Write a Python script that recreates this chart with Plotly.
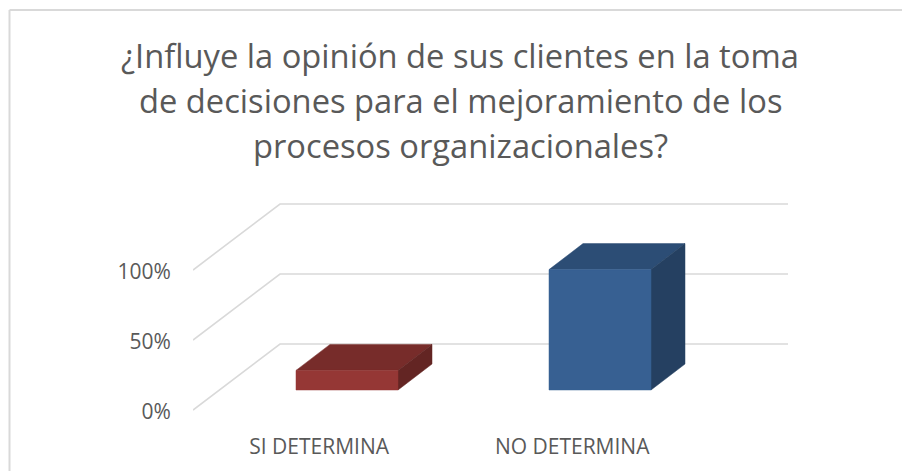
import plotly.graph_objects as go

categories = ["SI DETERMINA", "NO DETERMINA"]
values = [14, 86]
y_ticks = [0, 50, 100]
y_labels = ["0%", "50%", "100%"]
title_lines = [
    "¿Influye la opinión de sus clientes en la toma",
    "de decisiones para el mejoramiento de los",
    "procesos organizacionales?",
]
front_colors = ["#953735", "#376092"]
top_colors = ["#772C2A", "#2C4D75"]
side_colors = ["#632523", "#254061"]

W, H = 902, 471
PX_X0, PX_X1 = 193, 788      # plot area, pixels
PX_Y0, PX_Y1 = 410, 200
Y_PER_PX = 1 / 1.4           # percent per pixel
X_PER_PX = 1 / 253           # category units per pixel
X_MIN = (PX_X0 - 347) * X_PER_PX
X_MAX = (PX_X1 - 347) * X_PER_PX
Y_MAX = (PX_Y0 - PX_Y1) * Y_PER_PX

FLOOR_DX, FLOOR_DY = 87 * X_PER_PX, 66 * Y_PER_PX
BAR_DX, BAR_DY = 34 * X_PER_PX, 26 * Y_PER_PX
BAR_HALF = 51 * X_PER_PX
BASE = 20 * Y_PER_PX
LABEL_SHIFT = 0.11
Y_LABEL_NUDGE = 2 * Y_PER_PX

fig = go.Figure()

def poly(xs, ys, color):
    fig.add_trace(go.Scatter(x=xs, y=ys, mode="lines", fill="toself", fillcolor=color,
                             line=dict(color=color, width=0.5), hoverinfo="skip", showlegend=False))

for v in y_ticks:
    fig.add_trace(go.Scatter(x=[X_MIN, X_MIN + FLOOR_DX, X_MAX], y=[v, v + FLOOR_DY, v + FLOOR_DY],
                             mode="lines", line=dict(color="#d9d9d9", width=1.6),
                             hoverinfo="skip", showlegend=False))

for i, val in enumerate(values):
    l, r = i - BAR_HALF, i + BAR_HALF
    b, t = BASE, BASE + val
    poly([l, r, r + BAR_DX, l + BAR_DX, l], [t, t, t + BAR_DY, t + BAR_DY, t], top_colors[i])
    poly([r, r + BAR_DX, r + BAR_DX, r, r], [b, b + BAR_DY, t + BAR_DY, t, b], side_colors[i])
    poly([l, r, r, l, l], [b, b, t, t, b], front_colors[i])

FONT = "Open Sans"
fig.update_layout(
    template="none",
    width=W, height=H, autosize=False,
    margin=dict(l=0, r=0, t=0, b=0),
    paper_bgcolor="white", plot_bgcolor="white",
    font=dict(family=FONT, color="#595959"),
    xaxis=dict(domain=[PX_X0 / W, PX_X1 / W], range=[X_MIN, X_MAX], showgrid=False, zeroline=False,
               showline=False, automargin=False, tickmode="array",
               tickvals=[i - LABEL_SHIFT for i in range(len(categories))], ticktext=categories,
               ticks="outside", ticklen=14, tickcolor="rgba(0,0,0,0)", tickfont=dict(size=21)),
    yaxis=dict(domain=[1 - PX_Y0 / H, 1 - PX_Y1 / H], range=[-3, Y_MAX], showgrid=False, zeroline=False,
               showline=False, automargin=False, tickmode="array",
               tickvals=[v - Y_LABEL_NUDGE for v in y_ticks], ticktext=y_labels,
               ticks="outside", ticklen=17, tickcolor="rgba(0,0,0,0)", tickfont=dict(size=21)),
    annotations=[
        dict(text=line, xref="paper", yref="paper", x=460 / W, y=1 - cy / H, xanchor="center",
             yanchor="middle", showarrow=False, font=dict(size=32.7, family=FONT, color="#595959"))
        for line, cy in zip(title_lines, [56, 101, 146])
    ],
    shapes=[
        dict(type="line", xref="paper", yref="paper", x0=9.5 / W, x1=9.5 / W, y0=0, y1=1 - 10 / H,
             line=dict(color="#d9d9d9", width=2)),
        dict(type="line", xref="paper", yref="paper", x0=9.5 / W, x1=1, y0=1 - 10 / H, y1=1 - 10 / H,
             line=dict(color="#d9d9d9", width=2)),
    ],
)
# Extending the y range below zero must keep 1.4 px per percent and 0% at pixel 410.
fig.update_yaxes(domain=[1 - (PX_Y0 + 3 / Y_PER_PX) / H, 1 - PX_Y1 / H])
fig.write_html("out.html", config=dict(displayModeBar=False),
               post_script="document.body.style.margin='0';document.body.style.overflow='hidden';")
